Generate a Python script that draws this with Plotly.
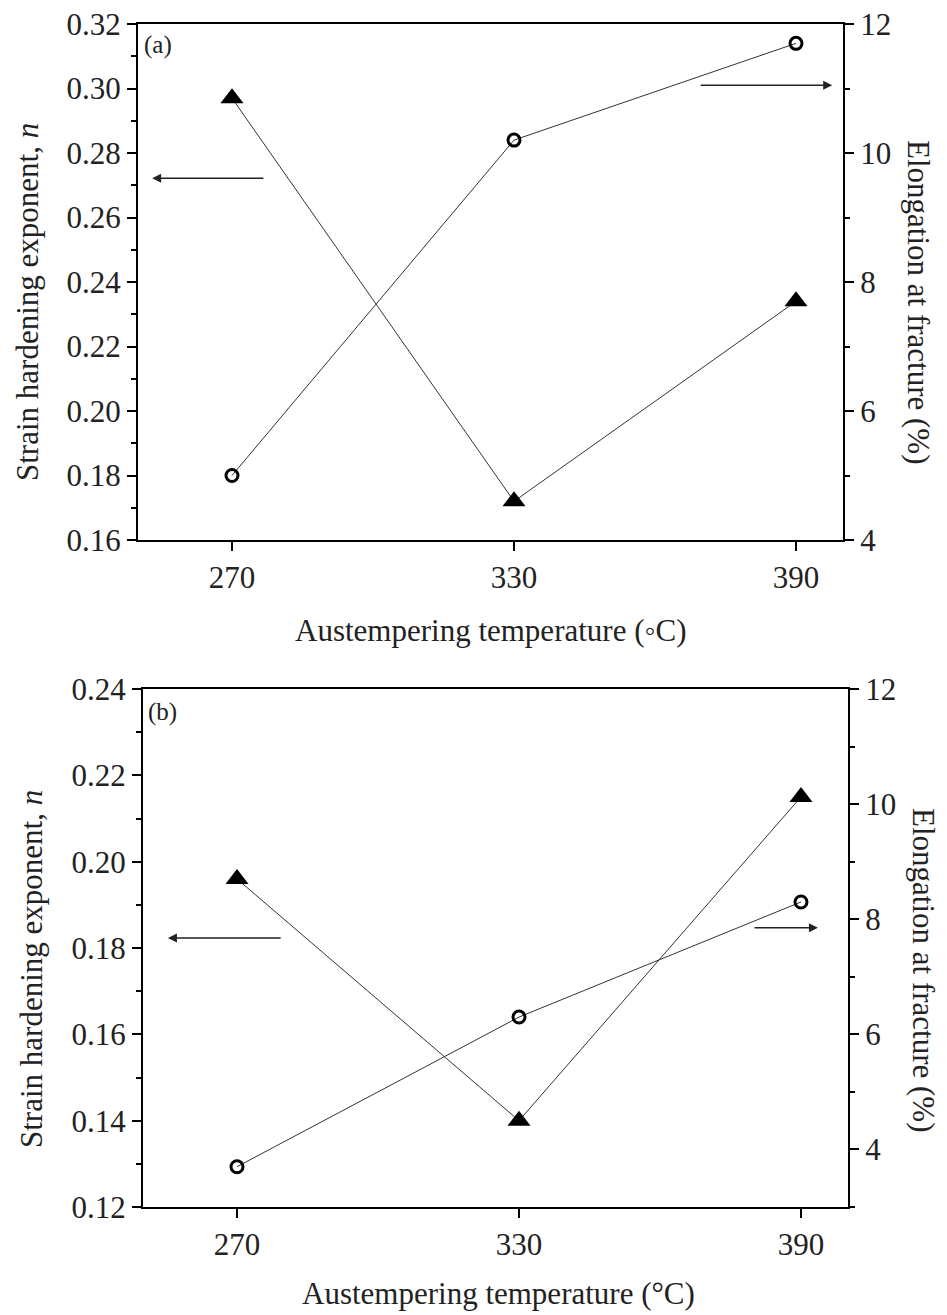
import plotly.graph_objects as go

temps = [270, 330, 390]
n_a = [0.297, 0.172, 0.234]
elong_a = [5.0, 10.2, 11.7]
n_b = [0.196, 0.140, 0.215]
elong_b = [3.7, 6.3, 8.3]

W, H = 947, 1315
FONT = "Liberation Serif"

def fx(px):
    return px / W

def fy(py):
    return 1 - py / H

fig = go.Figure()

line_style = dict(color="#333333", width=1)
tri = dict(symbol="triangle-up", size=20, color="black")
circ = dict(symbol="circle-open", size=12, color="black", line=dict(width=3, color="black"))

fig.add_trace(go.Scatter(x=temps, y=n_a, mode="lines+markers", line=line_style, marker=tri, xaxis="x", yaxis="y"))
fig.add_trace(go.Scatter(x=temps, y=elong_a, mode="lines+markers", line=line_style, marker=circ, xaxis="x", yaxis="y2"))
fig.add_trace(go.Scatter(x=temps, y=n_b, mode="lines+markers", line=line_style, marker=tri, xaxis="x2", yaxis="y3"))
fig.add_trace(go.Scatter(x=temps, y=elong_b, mode="lines+markers", line=line_style, marker=circ, xaxis="x2", yaxis="y4"))

tickfont = dict(family=FONT, size=31, color="#222222")
common_x = dict(range=[250, 400], tickvals=temps, ticks="outside", ticklen=9, tickwidth=2,
                showline=True, linewidth=2, linecolor="black", mirror=True, showgrid=False,
                zeroline=False, tickfont=tickfont, tickcolor="black", automargin=False)
common_y = dict(ticks="outside", ticklen=9, tickwidth=2, showline=True, linewidth=2,
                linecolor="black", showgrid=False, zeroline=False, tickfont=tickfont,
                tickcolor="black", automargin=False)
minor_style = dict(ticks="outside", ticklen=5, tickwidth=2, tickcolor="black", showgrid=False)

fig.update_layout(
    width=W, height=H, margin=dict(l=0, r=0, t=0, b=0),
    paper_bgcolor="white", plot_bgcolor="white", showlegend=False,
    xaxis=dict(common_x, domain=[fx(138), fx(843)], anchor="y"),
    yaxis=dict(common_y, domain=[fy(540), fy(24)], anchor="x", range=[0.16, 0.32],
               tickvals=[0.16, 0.18, 0.20, 0.22, 0.24, 0.26, 0.28, 0.30, 0.32],
               ticktext=["0.16", "0.18", "0.20", "0.22", "0.24", "0.26", "0.28", "0.30", "0.32"],
               minor=dict(minor_style, dtick=0.01, tick0=0.16)),
    yaxis2=dict(common_y, overlaying="y", side="right", anchor="x", range=[4, 12],
                tickvals=[4, 6, 8, 10, 12], minor=dict(minor_style, dtick=1, tick0=4)),
    xaxis2=dict(common_x, domain=[fx(143), fx(848)], anchor="y3"),
    yaxis3=dict(common_y, domain=[fy(1207), fy(689)], anchor="x2", range=[0.12, 0.24],
                tickvals=[0.12, 0.14, 0.16, 0.18, 0.20, 0.22, 0.24],
                ticktext=["0.12", "0.14", "0.16", "0.18", "0.20", "0.22", "0.24"],
                minor=dict(minor_style, dtick=0.01, tick0=0.12)),
    yaxis4=dict(common_y, overlaying="y3", side="right", anchor="x2", range=[3, 12],
                tickvals=[4, 6, 8, 10, 12], minor=dict(minor_style, dtick=1, tick0=3)),
)

titlefont = dict(family=FONT, size=31, color="#222222")
ann = []
# axis titles
ann.append(dict(text="Austempering temperature (\u25e6C)", x=fx(490), y=fy(630), xref="paper", yref="paper",
                showarrow=False, font=titlefont, xanchor="center", yanchor="middle"))
ann.append(dict(text="Austempering temperature (\u00b0C)", x=fx(498), y=fy(1293), xref="paper", yref="paper",
                showarrow=False, font=titlefont, xanchor="center", yanchor="middle"))
ann.append(dict(text="Strain hardening exponent, <i>n</i>", x=fx(27), y=fy(302), xref="paper", yref="paper",
                showarrow=False, font=titlefont, textangle=-90, xanchor="center", yanchor="middle"))
ann.append(dict(text="Strain hardening exponent, <i>n</i>", x=fx(31), y=fy(969), xref="paper", yref="paper",
                showarrow=False, font=titlefont, textangle=-90, xanchor="center", yanchor="middle"))
ann.append(dict(text="Elongation at fracture (%)", x=fx(919), y=fy(302), xref="paper", yref="paper",
                showarrow=False, font=titlefont, textangle=90, xanchor="center", yanchor="middle"))
ann.append(dict(text="Elongation at fracture (%)", x=fx(924), y=fy(970), xref="paper", yref="paper",
                showarrow=False, font=titlefont, textangle=90, xanchor="center", yanchor="middle"))
# panel labels
ann.append(dict(text="(a)", x=fx(142), y=fy(45), xref="paper", yref="paper", showarrow=False,
                font=dict(family=FONT, size=25, color="#222222"), xanchor="left", yanchor="middle"))
ann.append(dict(text="(b)", x=fx(146), y=fy(712), xref="paper", yref="paper", showarrow=False,
                font=dict(family=FONT, size=25, color="#222222"), xanchor="left", yanchor="middle"))
# arrows
arrow = dict(showarrow=True, arrowhead=2, arrowsize=1.2, arrowwidth=1.5, arrowcolor="#222222", text="")
ann.append(dict(arrow, x=253, y=0.2722, ax=277, ay=0.2722, xref="x", yref="y", axref="x", ayref="y"))
ann.append(dict(arrow, x=397.7, y=11.05, ax=369.4, ay=11.05, xref="x", yref="y2", axref="x", ayref="y2"))
ann.append(dict(arrow, x=255.3, y=0.1823, ax=279.6, ay=0.1823, xref="x2", yref="y3", axref="x2", ayref="y3"))
ann.append(dict(arrow, x=393.6, y=7.85, ax=379.8, ay=7.85, xref="x2", yref="y4", axref="x2", ayref="y4"))

fig.update_layout(annotations=ann)
fig.write_html("out.html")
